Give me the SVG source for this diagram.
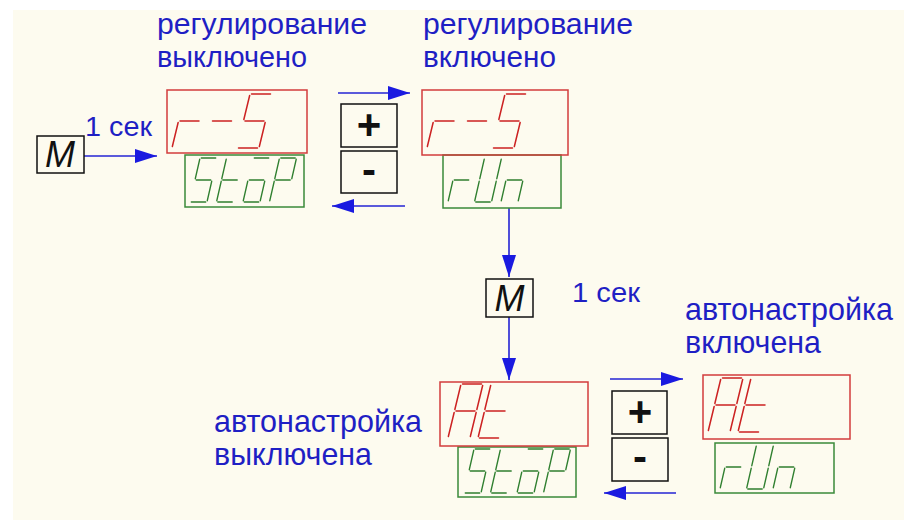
<svg xmlns="http://www.w3.org/2000/svg" xmlns:xlink="http://www.w3.org/1999/xlink" width="904" height="520" viewBox="0 0 904 520">
<style>
.lbl{font-family:"Liberation Sans",Arial,sans-serif;fill:#1f1fc4}
.rb{fill:none;stroke:#d23c3c;stroke-width:1.5}
.gb{fill:none;stroke:#3a8a3a;stroke-width:1.5}
.kb{fill:none;stroke:#111;stroke-width:1.5}
.rs{stroke:#cc2222;stroke-width:1.5;fill:none;stroke-linecap:round}
.gs{stroke:#2f7f2f;stroke-width:1.4;fill:none;stroke-linecap:round}
.key{font-family:"Liberation Sans",Arial,sans-serif;font-weight:bold;font-size:42px;fill:#111;text-anchor:middle}
.mk{font-family:"Liberation Sans",Arial,sans-serif;font-style:italic;font-size:36px;fill:#111;text-anchor:middle}
.cn{stroke:#2424d4;stroke-width:1.6;fill:none}
</style>
<defs>
<marker id="ah" markerUnits="userSpaceOnUse" markerWidth="24" markerHeight="16" refX="22" refY="8" orient="auto">
<path d="M0,1 L22,8 L0,15 Z" fill="#1a1ae0"/>
</marker>
<!-- red 7-seg glyphs, origin bottom-left -->
<g id="R-r" class="rs"><path d="M0.35,-1.5 L6.15,-25.5 M8,-27 L27,-27"/></g>
<g id="R-dash" class="rs"><path d="M8,-27 L27,-27"/></g>
<g id="R-S" class="rs"><path d="M14.5,-54 L33.5,-54 M6.85,-28.5 L12.65,-52.5 M8,-27 L27,-27 M28.15,-25.5 L22.35,-1.5 M1.5,0 L20.5,0"/></g>
<g id="R-A" class="rs"><path d="M14.5,-54 L33.5,-54 M34.65,-52.5 L28.85,-28.5 M28.15,-25.5 L22.35,-1.5 M0.35,-1.5 L6.15,-25.5 M6.85,-28.5 L12.65,-52.5 M8,-27 L27,-27"/></g>
<g id="R-t" class="rs"><path d="M0.35,-1.5 L6.15,-25.5 M6.85,-28.5 L12.65,-52.5 M8,-27 L27,-27 M1.5,0 L20.5,0"/></g>
<!-- green 7-seg glyphs -->
<g id="G-S" class="gs"><path d="M11.3,-44 L25.7,-44 M5.3,-23.3 L9.7,-42.7 M6.3,-22 L20.7,-22 M21.7,-20.7 L17.3,-1.3 M1.3,0 L15.7,0"/></g>
<g id="G-t" class="gs"><path d="M0.3,-1.3 L4.7,-20.7 M5.3,-23.3 L9.7,-42.7 M6.3,-22 L20.7,-22 M1.3,0 L15.7,0"/></g>
<g id="G-o" class="gs"><path d="M11.3,-44 L25.7,-44 M6.3,-22 L20.7,-22 M21.7,-20.7 L17.3,-1.3 M1.3,0 L15.7,0 M0.3,-1.3 L4.7,-20.7"/></g>
<g id="G-P" class="gs"><path d="M11.3,-44 L25.7,-44 M26.7,-42.7 L22.3,-23.3 M5.3,-23.3 L9.7,-42.7 M6.3,-22 L20.7,-22 M0.3,-1.3 L4.7,-20.7"/></g>
<g id="G-r" class="gs"><path d="M0.3,-1.3 L4.7,-20.7 M6.3,-22 L20.7,-22"/></g>
<g id="G-U" class="gs"><path d="M26.7,-42.7 L22.3,-23.3 M21.7,-20.7 L17.3,-1.3 M1.3,0 L15.7,0 M0.3,-1.3 L4.7,-20.7 M5.3,-23.3 L9.7,-42.7"/></g>
<g id="G-n" class="gs"><path d="M6.3,-22 L20.7,-22 M21.7,-20.7 L17.3,-1.3 M0.3,-1.3 L4.7,-20.7"/></g>
</defs>

<rect x="13" y="10" width="891" height="510" fill="#fdfbef"/>

<g id="labels">
<text class="lbl" x="157" y="34" font-size="30" textLength="210" lengthAdjust="spacingAndGlyphs">регулирование</text>
<text class="lbl" x="157" y="67" font-size="30" textLength="150" lengthAdjust="spacingAndGlyphs">выключено</text>
<text class="lbl" x="423" y="34" font-size="30" textLength="210" lengthAdjust="spacingAndGlyphs">регулирование</text>
<text class="lbl" x="423" y="67" font-size="30" textLength="133" lengthAdjust="spacingAndGlyphs">включено</text>
<text class="lbl" x="85" y="136" font-size="28" textLength="67" lengthAdjust="spacingAndGlyphs">1 сек</text>
<text class="lbl" x="572" y="302" font-size="27" textLength="68" lengthAdjust="spacingAndGlyphs">1 сек</text>
<text class="lbl" x="685" y="320" font-size="32" textLength="208" lengthAdjust="spacingAndGlyphs">автонастройка</text>
<text class="lbl" x="685" y="353" font-size="32" textLength="136" lengthAdjust="spacingAndGlyphs">включена</text>
<text class="lbl" x="214" y="432" font-size="32" textLength="208" lengthAdjust="spacingAndGlyphs">автонастройка</text>
<text class="lbl" x="214" y="465" font-size="32" textLength="158" lengthAdjust="spacingAndGlyphs">выключена</text>
</g>

<g id="connectors">
<line class="cn" x1="84" y1="156" x2="157" y2="156" marker-end="url(#ah)"/>
<line class="cn" x1="338" y1="93" x2="410" y2="93" marker-end="url(#ah)"/>
<line class="cn" x1="405" y1="206" x2="332" y2="206" marker-end="url(#ah)"/>
<line class="cn" x1="509" y1="208" x2="509" y2="277" marker-end="url(#ah)"/>
<line class="cn" x1="509" y1="317" x2="509" y2="380" marker-end="url(#ah)"/>
<line class="cn" x1="610" y1="379" x2="683" y2="379" marker-end="url(#ah)"/>
<line class="cn" x1="676" y1="493" x2="604" y2="493" marker-end="url(#ah)"/>
</g>

<g id="m1">
<rect class="kb" x="37" y="136" width="47" height="37"/>
<text class="mk" x="60" y="167">M</text>
</g>

<g id="disp1">
<rect class="gb" x="185" y="155" width="119" height="52"/>
<use xlink:href="#G-S" x="190" y="202"/>
<use xlink:href="#G-t" x="216.5" y="202"/>
<use xlink:href="#G-o" x="243" y="202"/>
<use xlink:href="#G-P" x="269.5" y="202"/>
<rect class="rb" x="167" y="90" width="140" height="63"/>
<use xlink:href="#R-r" x="172" y="148"/>
<use xlink:href="#R-dash" x="204.5" y="148"/>
<use xlink:href="#R-S" x="237" y="148"/>
</g>

<g id="keys1">
<rect class="kb" x="341" y="104" width="56" height="43"/>
<text class="key" x="369" y="139">+</text>
<rect class="kb" x="341" y="151" width="56" height="42"/>
<text class="key" x="369" y="184">-</text>
</g>

<g id="disp2">
<rect class="gb" x="443" y="155" width="118" height="53"/>
<use xlink:href="#G-r" x="448" y="202"/>
<use xlink:href="#G-U" x="474.5" y="202"/>
<use xlink:href="#G-n" x="501" y="202"/>
<rect class="rb" x="422" y="90" width="146" height="65"/>
<use xlink:href="#R-r" x="427" y="148"/>
<use xlink:href="#R-dash" x="459.5" y="148"/>
<use xlink:href="#R-S" x="492" y="148"/>
</g>

<g id="m2">
<rect class="kb" x="486" y="279" width="47" height="38"/>
<text class="mk" x="509.5" y="311">M</text>
</g>

<g id="disp3">
<rect class="gb" x="458" y="447" width="118" height="50"/>
<use xlink:href="#G-S" x="464" y="493"/>
<use xlink:href="#G-t" x="490.5" y="493"/>
<use xlink:href="#G-o" x="517" y="493"/>
<use xlink:href="#G-P" x="543.5" y="493"/>
<rect class="rb" x="440" y="382" width="148" height="64"/>
<use xlink:href="#R-A" x="448" y="438"/>
<use xlink:href="#R-t" x="478" y="438"/>
</g>

<g id="keys2">
<rect class="kb" x="612" y="391" width="55" height="43"/>
<text class="key" x="640" y="426">+</text>
<rect class="kb" x="612" y="438" width="56" height="43"/>
<text class="key" x="640" y="471">-</text>
</g>

<g id="disp4">
<rect class="gb" x="715" y="443" width="119" height="50"/>
<use xlink:href="#G-r" x="720" y="489"/>
<use xlink:href="#G-U" x="746.5" y="489"/>
<use xlink:href="#G-n" x="773" y="489"/>
<rect class="rb" x="703" y="375" width="147" height="64"/>
<use xlink:href="#R-A" x="708" y="432"/>
<use xlink:href="#R-t" x="738" y="432"/>
</g>
</svg>
